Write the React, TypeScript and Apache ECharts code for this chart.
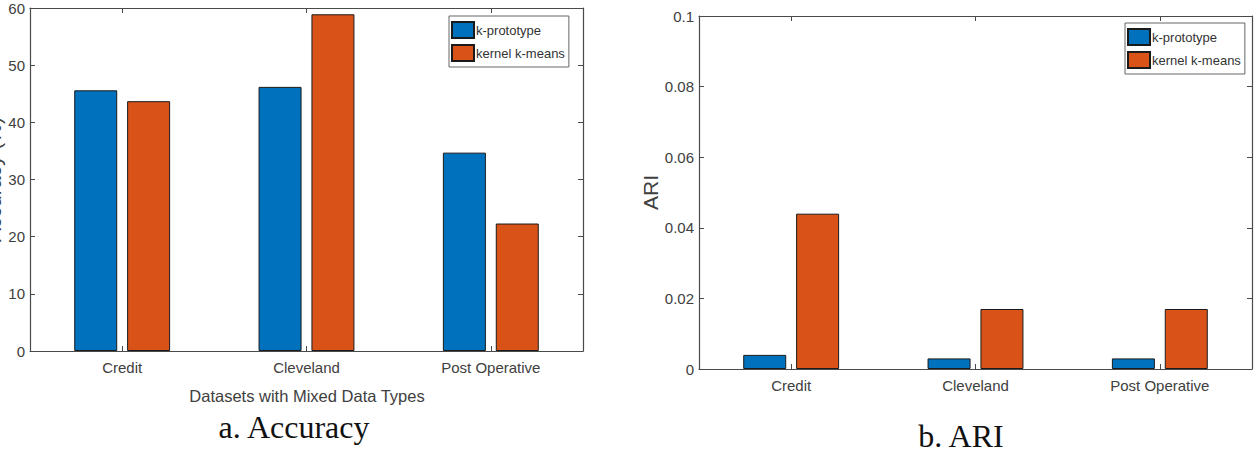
import React, { useEffect, useRef } from "react";
import * as echarts from "echarts";

// Datasets on the horizontal axis of both panels
const categories = ["Credit", "Cleveland", "Post Operative"];
const seriesNames = ["k-prototype", "kernel k-means"];

// Panel a: clustering accuracy (%)
const accuracyKPrototype = [45.6, 46.2, 34.7];
const accuracyKernelKMeans = [43.7, 58.9, 22.3];

// Panel b: adjusted Rand index
const ariKPrototype = [0.004, 0.003, 0.003];
const ariKernelKMeans = [0.044, 0.017, 0.017];

const accuracyRange = { min: 0, max: 60, interval: 10 };
const ariRange = { min: 0, max: 0.1, interval: 0.02 };

const BLUE = "#0072BD";
const ORANGE = "#D95319";
const AXIS = "#4a4a4a";
const TEXT = "#404040";
const LABEL_FONT = "'Liberation Sans', Arial, sans-serif";
const CAPTION_FONT = "'Liberation Serif', 'Times New Roman', serif";

const axisLine = { show: true, onZero: false, lineStyle: { color: AXIS, width: 1.2 } };
const inTick = { show: true, inside: true, length: 5, lineStyle: { color: AXIS, width: 1 } };

function categoryAxes(gridIndex: number) {
  return [
    {
      type: "category",
      gridIndex,
      data: categories,
      position: "bottom",
      boundaryGap: true,
      axisLine,
      axisTick: { ...inTick, alignWithLabel: true },
      axisLabel: { color: TEXT, fontFamily: LABEL_FONT, fontSize: 15, margin: 9 },
      splitLine: { show: false },
    },
    {
      type: "category",
      gridIndex,
      data: categories,
      position: "top",
      boundaryGap: true,
      axisLine,
      axisTick: { ...inTick, alignWithLabel: true },
      axisLabel: { show: false },
      splitLine: { show: false },
    },
  ];
}

function valueAxes(
  gridIndex: number,
  range: { min: number; max: number; interval: number },
  name: string,
  nameGap: number
) {
  return [
    {
      type: "value",
      gridIndex,
      position: "left",
      ...range,
      name,
      nameLocation: "middle",
      nameRotate: 90,
      nameGap,
      nameTextStyle: { color: TEXT, fontFamily: LABEL_FONT, fontSize: 21 },
      axisLine,
      axisTick: inTick,
      axisLabel: { color: TEXT, fontFamily: LABEL_FONT, fontSize: 15, margin: 5 },
      splitLine: { show: false },
    },
    {
      type: "value",
      gridIndex,
      position: "right",
      ...range,
      axisLine,
      axisTick: inTick,
      axisLabel: { show: false },
      splitLine: { show: false },
    },
  ];
}

function barSeries(name: string, color: string, data: number[], axisIndex: number) {
  return {
    type: "bar",
    name,
    xAxisIndex: axisIndex,
    yAxisIndex: axisIndex,
    data,
    barWidth: 43,
    barGap: "23%",
    itemStyle: { color, borderColor: "#1a1a1a", borderWidth: 1 },
  };
}

function legendAt(left: number, top: number) {
  return {
    data: seriesNames,
    orient: "vertical",
    left,
    top,
    icon: "rect",
    itemWidth: 22,
    itemHeight: 16,
    itemGap: 5,
    padding: [5, 4, 5, 2],
    borderColor: "#666",
    borderWidth: 1,
    backgroundColor: "#fff",
    selectedMode: false,
    textStyle: { color: "#333", fontFamily: LABEL_FONT, fontSize: 13, padding: [0, 0, 0, -3] },
  };
}

export default function App() {
  const ref = useRef<HTMLDivElement>(null);

  useEffect(() => {
    document.body.style.margin = "0";
    if (!ref.current) return;
    const chart = echarts.init(ref.current, undefined, { renderer: "svg" });

    chart.setOption({
      animation: false,
      backgroundColor: "#fff",
      grid: [
        { left: 30, top: 8, width: 553, height: 343, show: false, outerBoundsMode: "none" },
        { left: 699, top: 16, width: 553, height: 353, show: false, outerBoundsMode: "none" },
      ],
      xAxis: [...categoryAxes(0), ...categoryAxes(1)],
      yAxis: [
        ...valueAxes(0, accuracyRange, "Accuracy (%)", 21),
        ...valueAxes(1, ariRange, "ARI", 25),
      ],
      legend: [legendAt(449, 16), legendAt(1125, 23)],
      series: [
        barSeries(seriesNames[0], BLUE, accuracyKPrototype, 0),
        barSeries(seriesNames[1], ORANGE, accuracyKernelKMeans, 0),
        barSeries(seriesNames[0], BLUE, ariKPrototype, 2),
        barSeries(seriesNames[1], ORANGE, ariKernelKMeans, 2),
      ],
      graphic: [
        {
          type: "text",
          x: 307,
          y: 396,
          style: {
            text: "Datasets with Mixed Data Types",
            fill: TEXT,
            font: `16.5px ${LABEL_FONT}`,
            textAlign: "center",
            textVerticalAlign: "middle",
          },
        },
        {
          type: "text",
          x: 294,
          y: 443,
          style: {
            text: "a. Accuracy",
            fill: "#111",
            font: `32px ${CAPTION_FONT}`,
            textAlign: "center",
            textVerticalAlign: "bottom",
          },
        },
        {
          type: "text",
          x: 961,
          y: 452,
          style: {
            text: "b. ARI",
            fill: "#111",
            font: `32px ${CAPTION_FONT}`,
            textAlign: "center",
            textVerticalAlign: "bottom",
          },
        },
      ],
    });

    return () => chart.dispose();
  }, []);

  return <div ref={ref} style={{ width: 1260, height: 459 }} />;
}
